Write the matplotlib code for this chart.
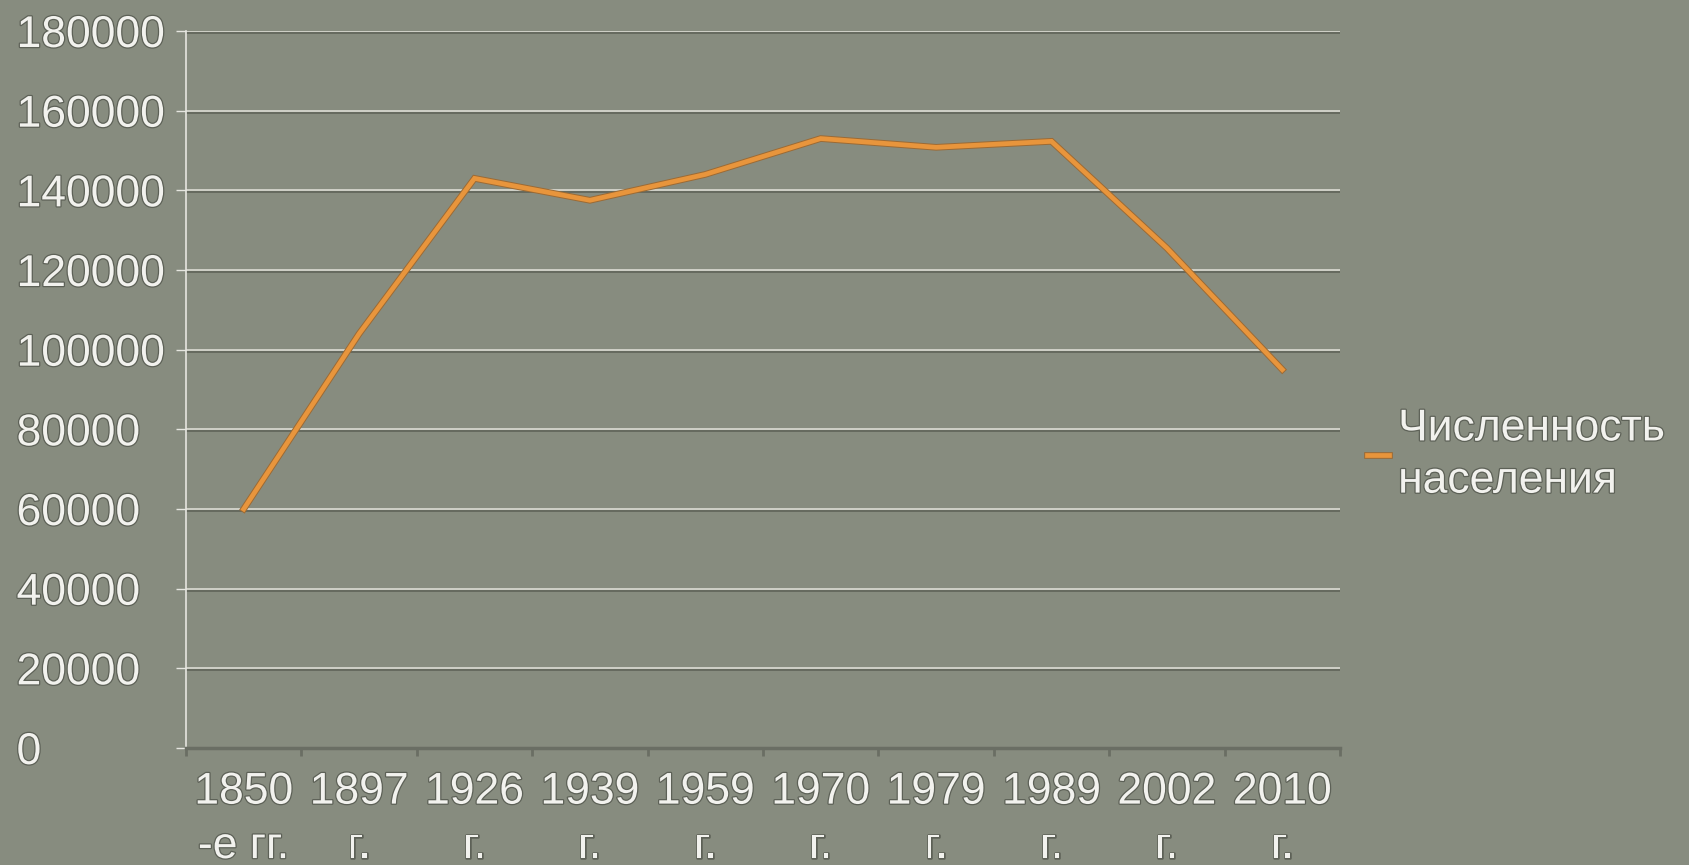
import matplotlib as mpl
import matplotlib.pyplot as plt
import matplotlib.patheffects as pe
import numpy as np

years = ['1850\n-е гг.', '1897\nг.', '1926\nг.', '1939\nг.', '1959\nг.',
         '1970\nг.', '1979\nг.', '1989\nг.', '2002\nг.', '2010\nг.']
population = [60000, 104000, 143000, 137500, 144000, 153000, 150800, 152300, 125500, 95000]
yticks = list(range(0, 180001, 20000))
series_name = 'Численность\nнаселения'

bg = '#878c7f'
txt_col = '#f2f2ee'
fx = [pe.withStroke(linewidth=1.8, foreground='#5d6157')]

mpl.rcParams['font.family'] = ['Liberation Sans', 'DejaVu Sans']
mpl.rcParams.update({'font.size': 32})

dpi = 100
fig = plt.figure(dpi=dpi, figsize=(1690 / dpi, 865 / dpi), facecolor=bg)
ax = fig.add_axes([186 / 1690, 1 - 748 / 865, (1340 - 186) / 1690, (748 - 31) / 865])
ax.set_facecolor(bg)

xs = np.arange(len(years))
ax.set_xlim(-0.5, len(years) - 0.5)
ax.set_ylim(0, 180000)

# gridlines with a dark shadow under them
for v in yticks[1:]:
    ax.axhline(v, color='#dcdcd4', lw=1.2, zorder=1,
               path_effects=[pe.SimpleLineShadow(offset=(0, -1.5), shadow_color='#4f534a', alpha=0.7),
                             pe.Normal()])

ax.plot(xs, population, color='#e8953c', lw=3.4, zorder=3, solid_joinstyle='miter',
        label=series_name,
        path_effects=[pe.Stroke(linewidth=4.8, foreground='#9c6a34'), pe.Normal()])

for s in ['top', 'right']:
    ax.spines[s].set_visible(False)
ax.spines['left'].set_color('#e6e6e0')
ax.spines['left'].set_linewidth(1.2)
ax.spines['bottom'].set_color('#6a6e64')
ax.spines['bottom'].set_linewidth(2.5)

ax.set_yticks(yticks)
ax.set_yticklabels([str(v) for v in yticks])
ax.tick_params(axis='y', length=7, width=1, color='#e6e6e0', pad=115, labelcolor=txt_col)
for lab in ax.get_yticklabels():
    lab.set_horizontalalignment('left')
    lab.set_path_effects(fx)

ax.set_xticks(xs)
ax.set_xticklabels(years, linespacing=1.42)
ax.set_xticks(np.arange(-0.5, len(years), 1), minor=True)
ax.tick_params(axis='x', which='major', length=0, pad=17, labelcolor=txt_col)
ax.tick_params(axis='x', which='minor', length=6, width=2, color='#6a6e64')
for lab in ax.get_xticklabels():
    lab.set_path_effects(fx)

leg = fig.legend(loc='center left', bbox_to_anchor=(1367 / 1690, 1 - 455 / 865),
                 frameon=False, handlelength=0.5, handletextpad=0.2, borderpad=0,
                 borderaxespad=0, labelcolor=txt_col)
for t in leg.get_texts():
    t.set_path_effects(fx)
    t.set_linespacing(1.35)

fig.savefig('out.png', dpi=dpi, facecolor=bg)
